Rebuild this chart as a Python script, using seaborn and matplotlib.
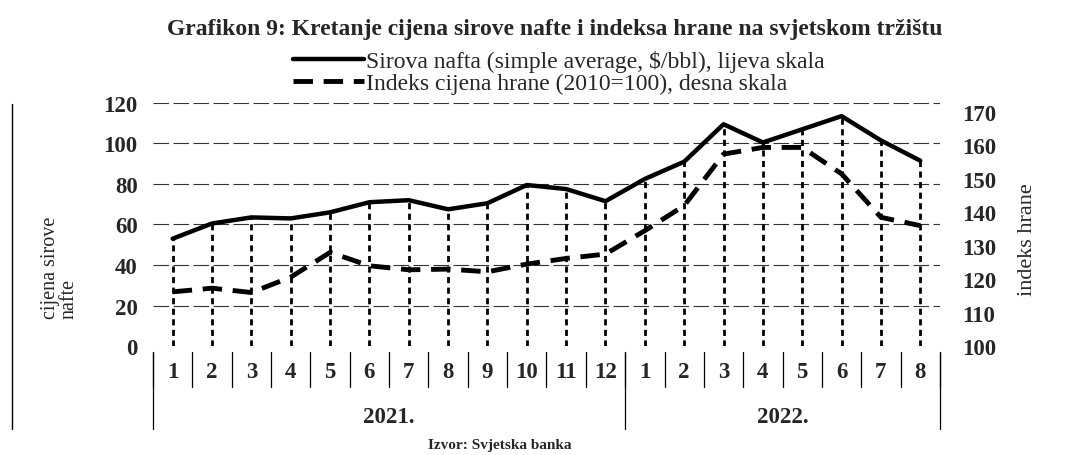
import pandas as pd
import matplotlib.pyplot as plt
import seaborn as sns
from matplotlib.transforms import blended_transform_factory

# Podaci procitani s grafikona
months = ['1', '2', '3', '4', '5', '6', '7', '8', '9', '10', '11', '12',
          '1', '2', '3', '4', '5', '6', '7', '8']
years = ['2021.', '2022.']
year_len = [12, 8]
oil = [53, 60.5, 63.5, 63, 66, 71, 72, 67.5, 70.5, 79.5, 77.5, 71.5,
       82.5, 91, 109.5, 100.5, 107, 113.5, 101.5, 91.5]
food = [116.2, 117.3, 116.0, 120.6, 128.0, 124.0, 122.8, 123.0, 122.2, 124.5, 126.2, 127.5,
        134.5, 142.0, 157.4, 159.4, 159.4, 151.5, 138.5, 136.0]
oil_label = 'Sirova nafta (simple average, $/bbl), lijeva skala'
food_label = 'Indeks cijena hrane (2010=100), desna skala'

sns.set_style('white')
plt.rcParams['font.family'] = ['Liberation Serif', 'DejaVu Serif']

df = pd.DataFrame({'idx': range(len(months)), 'month': months, 'oil': oil, 'food': food})

fig = plt.figure(figsize=(10.73, 4.56), dpi=100)
ax = fig.add_axes([0.1426, 0.239, 0.7334, 0.533])
ax2 = ax.twinx()

# mreza
for v in [20, 40, 60, 80, 100, 120]:
    ax.axhline(v, color='#333333', lw=0.8, ls=(0, (14, 4)), zorder=0)

# vertikalne isprekidane linije do osi
ax.vlines(df['idx'], 0, df['oil'], colors='black', lw=2, linestyles=(0, (2.2, 1.6)), zorder=1)

sns.lineplot(data=df, x='idx', y='oil', ax=ax, color='black', lw=3.2, label=oil_label,
             legend=False, zorder=3)
sns.lineplot(data=df, x='idx', y='food', ax=ax2, color='black', lw=3.5, label=food_label,
             legend=False, zorder=3)
ax2.lines[0].set_linestyle((0, (4, 2.2)))

ax.set_xlim(-0.5, len(months) - 0.5)
ax.set_ylim(0, 120)
ax2.set_ylim(100, 172.7)
ax.set_yticks(range(0, 121, 20))
ax2.set_yticks(range(100, 171, 10))
ax.set_xticks(df['idx'], labels=months)
ax.tick_params(axis='x', length=0, pad=11, labelsize=16.5)
ax.tick_params(axis='y', length=0, pad=11, labelsize=16.5)
ax2.tick_params(axis='y', length=0, pad=16, labelsize=16.5)
for lab in ax.get_xticklabels() + ax.get_yticklabels() + ax2.get_yticklabels():
    lab.set_fontweight('bold')
ax.set_xlabel('')
ax.set_ylabel('')
ax2.set_ylabel('')
for a in (ax, ax2):
    for s in a.spines.values():
        s.set_visible(False)

# dvoslojna kategorijska os
tr = blended_transform_factory(ax.transData, ax.transAxes)
for i in range(len(months) + 1):
    ax.plot([i - 0.5, i - 0.5], [-0.025, -0.17], color='black', lw=0.9, transform=tr, clip_on=False)
start = 0
for y, n in zip(years, year_len):
    ax.plot([start - 0.5, start - 0.5], [-0.025, -0.342], color='black', lw=0.9, transform=tr, clip_on=False)
    ax.text(start + n / 2 - 0.5, -0.292, y, transform=tr, ha='center', va='center',
            fontsize=16.5, fontweight='bold')
    start += n
ax.plot([start - 0.5, start - 0.5], [-0.025, -0.342], color='black', lw=0.9, transform=tr, clip_on=False)

# rub skena lijevo
fig.add_artist(plt.Line2D([0.011, 0.011], [0.057, 0.77], color='black', lw=1))

fig.text(0.056, 0.30, 'cijena sirove\nnafte', rotation=90, ha='center', va='bottom',
         fontsize=14.5, linespacing=0.95, multialignment='left')
fig.text(0.958, 0.474, 'indeks hrane', rotation=90, ha='center', va='center', fontsize=16)

fig.text(0.517, 0.935, 'Grafikon 9: Kretanje cijena sirove nafte i indeksa hrane na svjetskom tržištu',
         ha='center', va='center', fontsize=17, fontweight='bold')
h1, l1 = ax.get_legend_handles_labels()
h2, l2 = ax2.get_legend_handles_labels()
fig.legend(h1 + h2, l1 + l2, loc='upper left', bbox_to_anchor=(0.273, 0.888), frameon=False,
           fontsize=17, handlelength=3.0, handletextpad=0.1, labelspacing=0.02,
           borderpad=0, borderaxespad=0)

fig.text(0.466, 0.024, 'Izvor: Svjetska banka', ha='center', va='center', fontsize=11,
         fontweight='bold')

fig.savefig('out.png', dpi=100)
